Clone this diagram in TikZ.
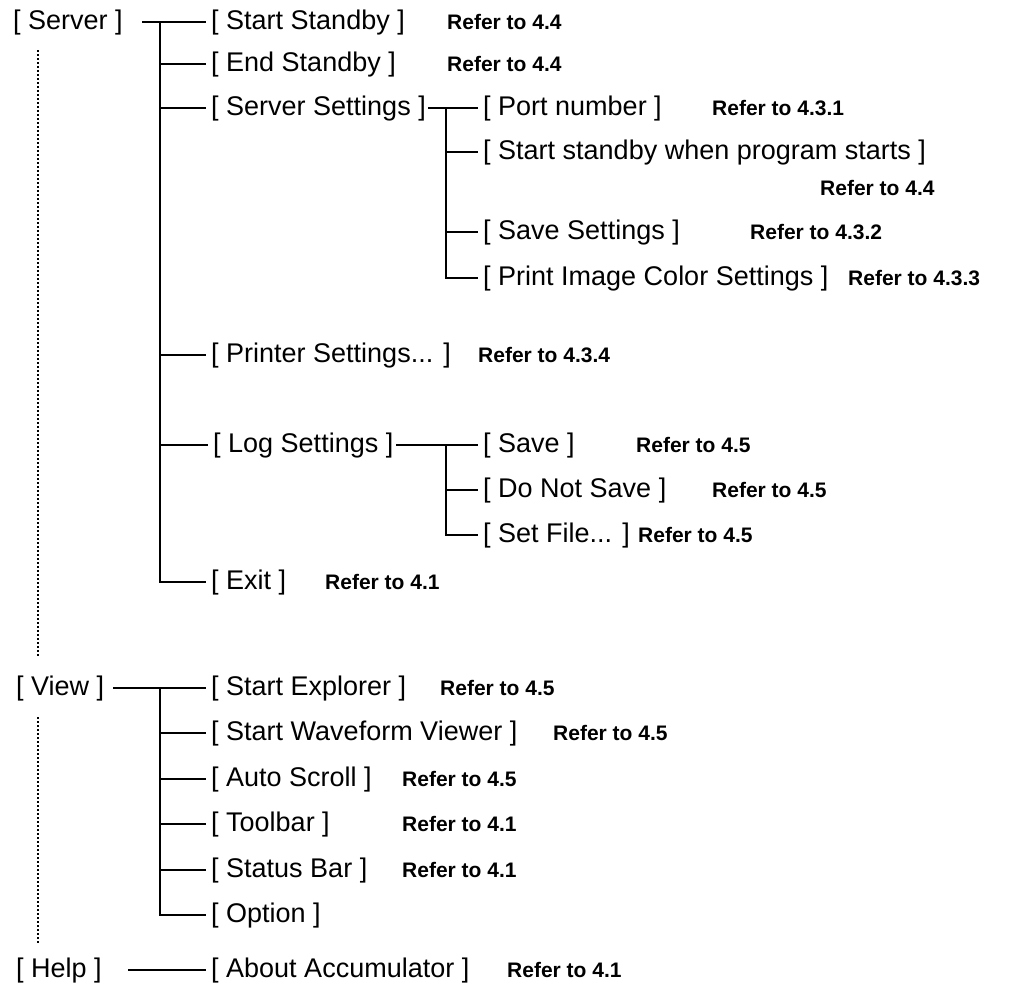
\documentclass[tikz,border=0pt]{standalone}
\usepackage{fontspec}
\setmainfont{Liberation Sans}
\begin{document}
\begin{tikzpicture}[x=1pt,y=-1pt,
  item/.style={anchor=base west,inner sep=0pt,font=\fontsize{27}{30}\selectfont},
  ref/.style={anchor=base west,inner sep=0pt,font=\fontsize{21}{25}\selectfont\bfseries},
  conn/.style={line width=2.3pt,line cap=rect},
  dots/.style={line width=2pt,dash pattern=on 2.2pt off 1.8pt}]
\useasboundingbox (0,0) rectangle (1015,989);
% level 0
\node[item] (server) at (13,29) {[ Server ]};
\node[item] (view) at (16,695) {[ View ]};
\node[item] (help) at (16,977) {[ Help ]};
% level 1
\node[item] (startsb) at (211,29) {[ Start Standby ]};
\node[item] (endsb) at (211,71) {[ End Standby ]};
\node[item] (srvset) at (211,115) {[ Server Settings ]};
\node[item] (prnset) at (211,362) {[ Printer Settings... ]};
\node[item] (logset) at (213,452) {[ Log Settings ]};
\node[item] (exit) at (211,589) {[ Exit ]};
\node[item] (startexp) at (211,695) {[ Start Explorer ]};
\node[item] (wave) at (211,740) {[ Start Waveform Viewer ]};
\node[item] (auto) at (211,786) {[ Auto Scroll ]};
\node[item] (toolbar) at (211,831) {[ Toolbar ]};
\node[item] (status) at (211,877) {[ Status Bar ]};
\node[item] (option) at (211,922) {[ Option ]};
\node[item] (about) at (211,977) {[ About Accumulator ]};
% level 2
\node[item] (port) at (483,115) {[ Port number ]};
\node[item] (sbstart) at (483,159) {[ Start standby when program starts ]};
\node[item] (savesets) at (483,239) {[ Save Settings ]};
\node[item] (pics) at (483,285) {[ Print Image Color Settings ]};
\node[item] (save) at (483,452) {[ Save ]};
\node[item] (nosave) at (483,497) {[ Do Not Save ]};
\node[item] (setfile) at (483,542) {[ Set File... ]};
% references
\node[ref] (r1) at (447,29) {Refer to 4.4};
\node[ref] (r2) at (447,71) {Refer to 4.4};
\node[ref] (r3) at (712,115) {Refer to 4.3.1};
\node[ref] (r4) at (820,195) {Refer to 4.4};
\node[ref] (r5) at (750,239) {Refer to 4.3.2};
\node[ref] (r6) at (848,285) {Refer to 4.3.3};
\node[ref] (r7) at (478,362) {Refer to 4.3.4};
\node[ref] (r8) at (636,452) {Refer to 4.5};
\node[ref] (r9) at (712,497) {Refer to 4.5};
\node[ref] (r10) at (638,542) {Refer to 4.5};
\node[ref] (r11) at (325,589) {Refer to 4.1};
\node[ref] (r12) at (440,695) {Refer to 4.5};
\node[ref] (r13) at (553,740) {Refer to 4.5};
\node[ref] (r14) at (402,786) {Refer to 4.5};
\node[ref] (r15) at (402,831) {Refer to 4.1};
\node[ref] (r16) at (402,877) {Refer to 4.1};
\node[ref] (r17) at (507,977) {Refer to 4.1};
% trunk coordinates
\coordinate (t1) at (160,22);
\coordinate (t2) at (446,108);
\coordinate (t3) at (446,445);
\coordinate (t4) at (160,688);
% Server tree
\draw[conn] ([xshift=20pt]server.east) -- ([xshift=-6pt]startsb.west);
\draw[conn] (t1) -- (t1 |- exit.west);
\foreach \n in {endsb,srvset,prnset,logset,exit}
  \draw[conn] (t1 |- \n.west) -- ([xshift=-6pt]\n.west);
\draw[conn] ([xshift=3pt]srvset.east) -- ([xshift=-6pt]port.west);
\draw[conn] (t2) -- (t2 |- pics.west);
\foreach \n in {sbstart,savesets,pics}
  \draw[conn] (t2 |- \n.west) -- ([xshift=-6pt]\n.west);
\draw[conn] ([xshift=4pt]logset.east) -- ([xshift=-6pt]save.west);
\draw[conn] (t3) -- (t3 |- setfile.west);
\foreach \n in {nosave,setfile}
  \draw[conn] (t3 |- \n.west) -- ([xshift=-6pt]\n.west);
% View tree
\draw[conn] ([xshift=10pt]view.east) -- ([xshift=-6pt]startexp.west);
\draw[conn] (t4) -- (t4 |- option.west);
\foreach \n in {wave,auto,toolbar,status,option}
  \draw[conn] (t4 |- \n.west) -- ([xshift=-6pt]\n.west);
% Help
\draw[conn] ([xshift=27pt]help.east) -- ([xshift=-6pt]about.west);
% dotted guides
\coordinate (d1) at (38,50);
\coordinate (d2) at (38,657);
\coordinate (d3) at (38,717);
\coordinate (d4) at (38,943);
\draw[dots] (d1) -- (d2);
\draw[dots] (d3) -- (d4);
\end{tikzpicture}
\end{document}
